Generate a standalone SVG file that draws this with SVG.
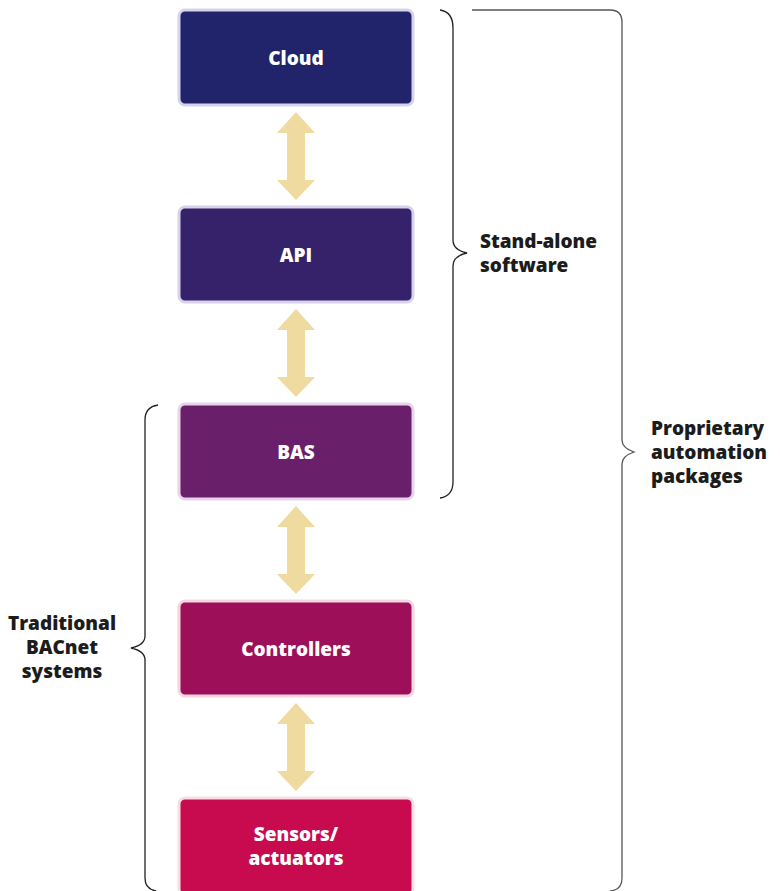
<svg xmlns="http://www.w3.org/2000/svg" width="780" height="891" viewBox="0 0 780 891">
<defs>
<style>
.box{stroke-width:3}
.bt{font-family:"Open Sans","Liberation Sans",sans-serif;font-weight:800;font-size:19px;fill:#fff;text-anchor:middle}
.lbl{font-family:"Open Sans","Liberation Sans",sans-serif;font-weight:800;font-size:19px;fill:#1c1c1c}
.arr{fill:#efdba0}
.br{fill:none;stroke:#222;stroke-width:1.3}
</style>
<path id="ar" d="M296,112 L315,133 L305,133 L305,180 L315,180 L296,200 L277,180 L287,180 L287,133 L277,133 Z"/>
</defs>
<rect width="780" height="891" fill="#fff"/>
<g id="connectors">
<use href="#ar" class="arr"/>
<use href="#ar" class="arr" y="197"/>
<use href="#ar" class="arr" y="394"/>
<use href="#ar" class="arr" y="591"/>
</g>
<g id="cloud">
<rect class="box" x="179" y="10" width="234" height="95" rx="6" fill="#21246b" stroke="#d6d3ea"/>
<text class="bt" x="296" y="65">Cloud</text>
</g>
<g id="api">
<rect class="box" x="179" y="207" width="234" height="95" rx="6" fill="#35226a" stroke="#d8d2ea"/>
<text class="bt" x="296" y="262">API</text>
</g>
<g id="bas">
<rect class="box" x="179" y="404" width="234" height="95" rx="6" fill="#6a1f6b" stroke="#e6d4ea"/>
<text class="bt" x="296" y="459">BAS</text>
</g>
<g id="controllers">
<rect class="box" x="179" y="601" width="234" height="95" rx="6" fill="#9e0f5a" stroke="#f3d6e2"/>
<text class="bt" x="296" y="656">Controllers</text>
</g>
<g id="sensors">
<rect class="box" x="179" y="798" width="234" height="97" rx="6" fill="#c80a4e" stroke="#f8dde3"/>
<text class="bt" x="296" y="841">Sensors/</text>
<text class="bt" x="296" y="865">actuators</text>
</g>
<g id="standalone">
<path class="br" d="M440,10 Q453,12 453,28 L453,240 Q453,250 467,253 Q453,256 453,266 L453,482 Q453,496 440,498"/>
<text class="lbl" x="480" y="248">Stand-alone</text>
<text class="lbl" x="480" y="272">software</text>
</g>
<g id="proprietary">
<path class="br" style="stroke:#555" d="M472,10 L610,10 Q622,10 622,22 L622,440 Q622,448 634,452 Q622,456 622,464 L622,878 Q622,890 610,891"/>
<text class="lbl" x="651" y="435">Proprietary</text>
<text class="lbl" x="651" y="459">automation</text>
<text class="lbl" x="651" y="483">packages</text>
</g>
<g id="traditional">
<path class="br" d="M158,405 Q145,407 145,420 L145,636 Q145,645 131,648 Q145,651 145,660 L145,878 Q145,889 156,891"/>
<text class="lbl" x="62" y="630" text-anchor="middle">Traditional</text>
<text class="lbl" x="62" y="654" text-anchor="middle">BACnet</text>
<text class="lbl" x="62" y="678" text-anchor="middle">systems</text>
</g>
</svg>
